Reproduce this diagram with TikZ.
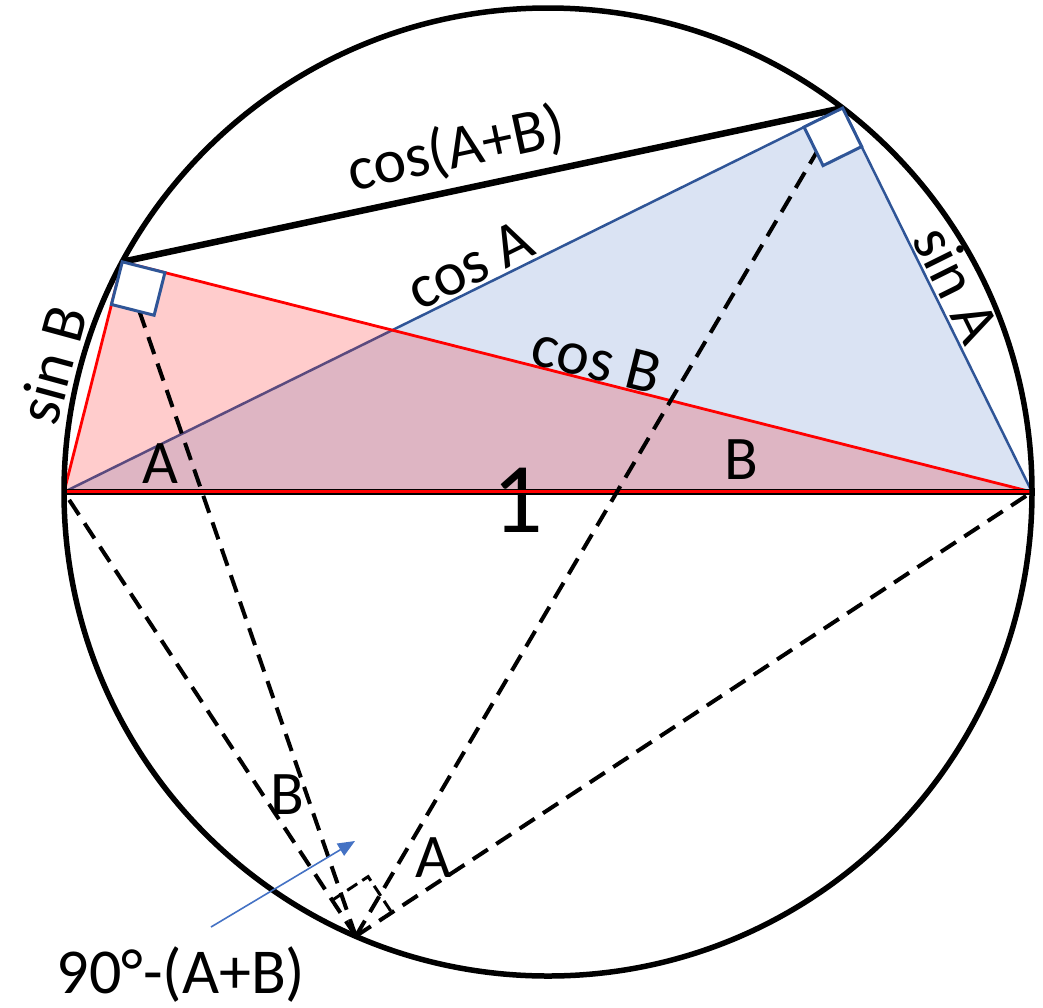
\documentclass[tikz,border=0pt]{standalone}
\usepackage{fontspec}
\setmainfont{Carlito}
\usetikzlibrary{calc,arrows.meta}
\definecolor{bluefill}{RGB}{218,227,243}
\definecolor{pinkfill}{RGB}{255,204,204}
\definecolor{mauvefill}{RGB}{222,181,195}
\definecolor{blueline}{RGB}{47,85,151}
\definecolor{purpline}{RGB}{90,74,126}
\definecolor{arrowblue}{RGB}{68,114,196}
\begin{document}
\begin{tikzpicture}[x=1pt,y=1pt,
  lbl/.style={font=\fontsize{62}{62}\selectfont, inner sep=0pt},
  biglbl/.style={font=\fontsize{100}{100}\selectfont, inner sep=0pt},
  dsh/.style={line width=4pt, dash pattern=on 18pt off 10pt},
  sqdsh/.style={line width=3pt, dash pattern=on 12pt off 6pt},
  bluesq/.style={draw=blueline, line width=3pt, fill=white},
  thinblue/.style={draw=blueline, line width=2.5pt},
  thinred/.style={draw=red, line width=2.8pt}]
\useasboundingbox (0,0) rectangle (1043,-1007);
\coordinate (O) at (548,-492);
\coordinate (L) at (64,-492);
\coordinate (R) at (1032,-492);
\coordinate (PA) at ($(O)+(52.5:484pt)$);
\coordinate (PB) at ($(O)+(151.6:484pt)$);
\coordinate (Q) at ($(O)+(246.6:484pt)$);
\coordinate (X) at (intersection of L--PA and PB--R);
% fills
\fill[bluefill] (L) -- (PA) -- (R) -- cycle;
\fill[pinkfill] (L) -- (PB) -- (R) -- cycle;
\fill[mauvefill] (L) -- (X) -- (R) -- cycle;
% triangle edges
\draw[draw=purpline, line width=2.5pt] (L) -- (X);
\draw[thinblue] (X) -- (PA) -- (R);
\draw[thinred] (L) -- (PB) -- (R);
% big 1
\node[biglbl] (one) at (518,-500) {1};
% diameter
\draw[line width=6pt] (L) -- (R);
\draw[red, line width=3pt] ($(L)+(0,0.8)$) -- ($(R)+(0,0.8)$);
% circle and chord
\draw[line width=5.5pt] (O) circle (484pt);
\draw[line width=6.5pt] (PB) -- (PA);
% dashed lines from Q
\draw[dsh] (Q) -- (L);
\draw[dsh] (Q) -- (PB);
\draw[dsh] (Q) -- (PA);
\draw[dsh] (Q) -- (R);
% right angle marks
\coordinate (a1) at ($(PA)!43pt!(L)$);
\coordinate (a2) at ($(PA)!43pt!(R)$);
\draw[bluesq] (PA) -- (a1) -- ($(a1)+(a2)-(PA)$) -- (a2) -- cycle;
\coordinate (b1) at ($(PB)!44pt!(L)$);
\coordinate (b2) at ($(PB)!44pt!(R)$);
\draw[bluesq] (PB) -- (b1) -- ($(b1)+(b2)-(PB)$) -- (b2) -- cycle;
\coordinate (q1) at ($(Q)!43pt!(L)$);
\coordinate (q2) at ($(Q)!43pt!(R)$);
\draw[sqdsh] (q1) -- ($(q1)+(q2)-(Q)$) -- (q2);
% labels
\node[lbl, rotate=12.2] (cab) at (456,-150) {cos(A+B)};
\node[lbl, rotate=26.2] (ca) at (470,-265) {cos A};
\node[lbl, rotate=-63.6] (sa) at (957,-284) {sin A};
\node[lbl, rotate=-14.1] (cb) at (597,-360) {cos B};
\node[lbl, rotate=74.8] (sb) at (52,-365) {sin B};
\node[lbl] (la) at (160,-464) {A};
\node[lbl] (lb) at (741,-460) {B};
\node[lbl] (qb) at (287,-795) {B};
\node[lbl] (qa) at (433,-858) {A};
\node[lbl, font=\fontsize{64}{64}\selectfont, anchor=base] (ang) at (181,-993) {90°-(A+B)};
% arrow
\coordinate (arrtail) at (211,-927);
\coordinate (arrhead) at (355,-841);
\draw[arrowblue, line width=1.6pt, -{Triangle[length=17pt,width=14pt]}] (arrtail) -- (arrhead);
\end{tikzpicture}
\end{document}
